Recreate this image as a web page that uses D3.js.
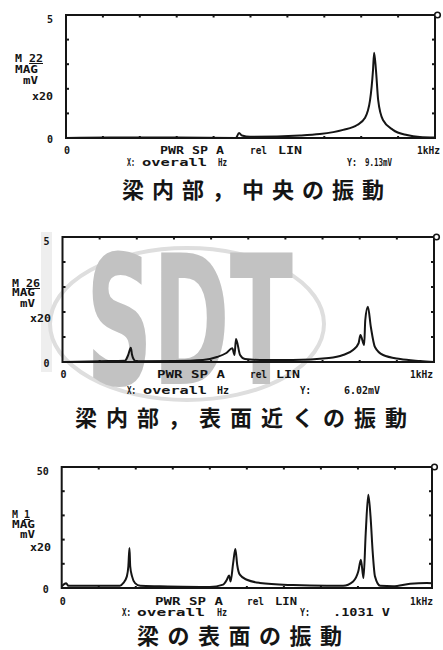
<!DOCTYPE html>
<html>
<head>
<meta charset="utf-8">
<script src="https://cdn.jsdelivr.net/npm/d3@7"></script>
<style>
  html, body { margin: 0; padding: 0; background: #fff; }
  svg { display: block; }
  .lbl { font-family: "DejaVu Sans Mono", monospace; font-weight: bold; font-size: 10px; fill: #151515; }
  .ttl { font-family: "Noto Sans CJK JP", sans-serif; font-weight: bold; font-size: 22px; fill: #151515; }
</style>
</head>
<body>
<svg id="chart" width="443" height="650"></svg>
<script>
// Spectrum 1: beam interior, centre (Hz, amplitude mV)
const freq1 = [0, 120, 300, 460, 469, 477, 499, 507, 634, 688, 751, 789, 810, 824, 832, 835, 840, 846, 859, 886, 924, 959, 1000];
const amp1  = [0, 0.02, 0.02, 0, 0.2, 0.1, 0.05, 0.05, 0.1, 0.16, 0.33, 0.53, 0.81, 1.54, 2.76, 3.47, 2.76, 1.54, 0.73, 0.33, 0.12, 0.04, 0.02];

// Spectrum 2: beam interior, near surface
const freq2 = [0, 101, 168, 176, 184, 187, 192, 198, 300, 378, 416, 441, 457, 463, 467, 478, 491, 532, 620, 717, 755, 782, 797, 802, 812, 815, 822, 830, 841, 863, 909, 963, 1000];
const amp2  = [0, 0.03, 0.05, 0.25, 0.57, 0.3, 0.1, 0.03, 0.04, 0.08, 0.2, 0.36, 0.55, 0.28, 0.92, 0.28, 0.12, 0.08, 0.08, 0.16, 0.28, 0.48, 0.75, 1.08, 0.68, 1.68, 2.21, 1.4, 0.6, 0.28, 0.12, 0.04, 0];

// Spectrum 3: beam surface
const freq3 = [0, 12, 18, 85, 157, 166, 176, 180, 183, 185, 190, 198, 212, 265, 400, 436, 446, 452, 456, 463, 469, 474, 481, 500, 535, 625, 716, 760, 787, 801, 808, 815, 821, 828, 834, 840, 846, 860, 895, 941, 986, 1000];
const amp3  = [0.7, 2, 0.9, 0.9, 0.9, 2, 4.8, 9, 16.5, 9, 4.8, 2, 0.9, 0.7, 0.4, 1.4, 3.4, 5.2, 2.7, 10.3, 16.1, 9.5, 5.5, 3.4, 2.1, 1.2, 0.9, 0.9, 2.7, 6.9, 11.7, 4.1, 22.6, 38.5, 29.6, 14.5, 4.8, 0.9, 0.7, 1.8, 2.1, 2];

const yMaxes   = [5, 5, 50];
const markers  = ["22", "26", "1"];
const readouts = ["9.13mV", "6.02mV", ".1031 V"];
const titles   = ["梁内部，中央の振動", "梁内部，表面近くの振動", "梁の表面の振動"];

const svg = d3.select("#chart");

// ---------------------------------------------------------------------------
// Faint logo watermark behind the middle panel
// ---------------------------------------------------------------------------
const wm = svg.append("g");
wm.append("rect")
  .attr("x", 41).attr("y", 232).attr("width", 11).attr("height", 140)
  .attr("fill", "#eeeeee");
wm.append("ellipse")
  .attr("cx", 187).attr("cy", 324).attr("rx", 137).attr("ry", 76)
  .attr("fill", "none").attr("stroke", "#dedede").attr("stroke-width", 4);
wm.append("text")
  .attr("x", 86).attr("y", 384)
  .attr("textLength", 207).attr("lengthAdjust", "spacingAndGlyphs")
  .attr("font-family", "DejaVu Sans").attr("font-weight", "bold")
  .attr("font-size", 180).attr("fill", "#c2c2c2")
  .text("SDT");

// ---------------------------------------------------------------------------
// Panels: frame box, caption position and [x, width] of each annotation token
// ---------------------------------------------------------------------------
const panels = [
  { x0: 66, x1: 435, y0: 15, y1: 138, r1: 16, r2: 28, tx: 122, ty: 198, ls: 8,
    row1: [[160, 64], [250, 17], [278, 24], [417, 23]],
    row2: [[127, 8], [142, 65], [218, 9], [347, 10], [365, 27]],
    lab: [[15, -76, 28], [15, -65, 23], [23, -54, 15], [32, -38, 21]] },
  { x0: 62.5, x1: 434, y0: 237, y1: 362, r1: 16, r2: 32, tx: 75, ty: 426, ls: 9,
    row1: [[157, 68], [250, 17], [276, 24], [410, 23]],
    row2: [[127, 9], [143, 64], [217, 12], [300, 11], [344, 36]],
    lab: [[12, -75, 28], [12, -66, 23], [20, -55, 15], [30, -40, 21]] },
  { x0: 61.7, x1: 432, y0: 467, y1: 588, r1: 17, r2: 28, tx: 137, ty: 644, ls: 8.5,
    row1: [[155, 68], [247, 17], [275, 22], [410, 23]],
    row2: [[122, 9], [137, 68], [217, 10], [300, 10], [333, 57]],
    lab: [[12, -70, 18], [12, -60, 23], [20, -50, 15], [30, -37, 21]] }
];

const series = [[freq1, amp1], [freq2, amp2], [freq3, amp3]];

function token(g, t, x, y, w) {
  return g.append("text").attr("class", "lbl")
    .attr("x", x).attr("y", y)
    .attr("textLength", w).attr("lengthAdjust", "spacingAndGlyphs")
    .text(t);
}

panels.forEach((p, i) => {
  const x = d3.scaleLinear().domain([0, 1000]).range([p.x0, p.x1]);
  const y = d3.scaleLinear().domain([0, yMaxes[i]]).range([p.y1, p.y0]);
  const g = svg.append("g");

  // tick marks (inward) on all four sides
  const yt = y.ticks(5).slice(1, -1);
  const xt = x.ticks(10).slice(1, -1);
  const ticks = g.append("g").attr("stroke", "#151515").attr("stroke-width", 2);
  yt.forEach((v) => {
    ticks.append("line").attr("x1", p.x0).attr("x2", p.x0 + 3).attr("y1", y(v)).attr("y2", y(v));
    ticks.append("line").attr("x1", p.x1).attr("x2", p.x1 - 3).attr("y1", y(v)).attr("y2", y(v));
  });
  xt.forEach((v) => {
    ticks.append("line").attr("x1", x(v)).attr("x2", x(v)).attr("y1", p.y0).attr("y2", p.y0 + 2.5);
    ticks.append("line").attr("x1", x(v)).attr("x2", x(v)).attr("y1", p.y1).attr("y2", p.y1 - 2);
  });

  // curve
  const [fs, as] = series[i];
  const pts = fs.map((f, k) => [f, as[k]]);
  g.append("path")
    .datum(pts)
    .attr("fill", "none")
    .attr("stroke", "#151515")
    .attr("stroke-width", 2)
    .attr("stroke-linejoin", "round")
    .attr("d", d3.line().x((d) => x(d[0])).y((d) => y(d[1])).curve(d3.curveMonotoneX));

  // frame
  g.append("rect")
    .attr("x", p.x0).attr("y", p.y0)
    .attr("width", p.x1 - p.x0).attr("height", p.y1 - p.y0)
    .attr("fill", "none").attr("stroke", "#151515").attr("stroke-width", 2);

  // small open marker at the top-right corner
  g.append("circle")
    .attr("cx", p.x1 + 2.5).attr("cy", p.y0).attr("r", 2.8)
    .attr("fill", "#fff").attr("stroke", "#151515").attr("stroke-width", 1.6);

  // y end labels
  g.append("text").attr("class", "lbl").attr("text-anchor", "end")
    .attr("x", p.x0 - 13).attr("y", y(yMaxes[i]) + 8).text(String(yMaxes[i]));
  g.append("text").attr("class", "lbl").attr("text-anchor", "end")
    .attr("x", p.x0 - 13).attr("y", y(0) + 5).text("0");

  // marker / unit block at the left
  const [l0, l1, l2, l3] = p.lab;
  const m = g.append("text").attr("class", "lbl")
    .attr("x", l0[0]).attr("y", p.y1 + l0[1])
    .attr("textLength", l0[2]).attr("lengthAdjust", "spacingAndGlyphs");
  m.append("tspan").text("M ");
  m.append("tspan").attr("text-decoration", "underline").text(markers[i]);
  token(g, "MAG", l1[0], p.y1 + l1[1], l1[2]);
  token(g, "mV", l2[0], p.y1 + l2[1], l2[2]);
  token(g, "x20", l3[0], p.y1 + l3[1], l3[2]);

  // x axis annotation rows
  const r1 = p.y1 + p.r1;
  const r2 = p.y1 + p.r2;
  g.append("text").attr("class", "lbl").attr("text-anchor", "middle")
    .attr("x", p.x0 + 1).attr("y", r1).text("0");
  ["PWR SP A", "rel", "LIN", "1kHz"].forEach((t, k) => {
    token(g, t, p.row1[k][0], r1, p.row1[k][1]);
  });
  ["X:", "overall", "Hz", "Y:", readouts[i]].forEach((t, k) => {
    token(g, t, p.row2[k][0], r2, p.row2[k][1]);
  });

  // caption
  g.append("text").attr("class", "ttl")
    .attr("x", p.tx).attr("y", p.ty)
    .style("letter-spacing", p.ls + "px")
    .text(titles[i]);
});
</script>
</body>
</html>
